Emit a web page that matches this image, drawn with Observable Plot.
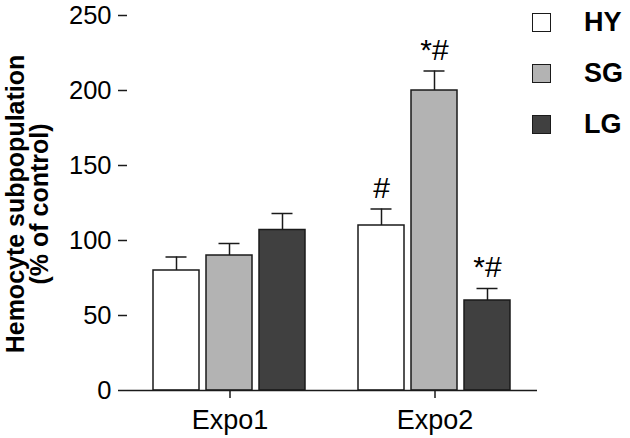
<!DOCTYPE html>
<html>
<head>
<meta charset="utf-8">
<script src="https://cdn.jsdelivr.net/npm/d3@7"></script>
<script src="https://cdn.jsdelivr.net/npm/@observablehq/plot@0.6"></script>
<style>
  html, body { margin: 0; padding: 0; background: #fff; }
  #wrap { position: relative; width: 630px; height: 438px; font-family: "Liberation Sans", Arial, sans-serif; }
  #wrap svg { position: absolute; left: 0; top: 0; }
  #ylabel { position: absolute; left: 26.5px; top: 204px; transform: translate(-50%, -50%) rotate(-90deg);
    white-space: nowrap; text-align: center; font-weight: bold; font-size: 25px; line-height: 24px; color: #000; }
  #legend { position: absolute; left: 532px; top: -3.5px; }
  .item { display: flex; align-items: center; height: 51px; }
  .sw { width: 17px; height: 17px; border: 1.5px solid #1a1a1a; box-sizing: content-box; }
  .lab { margin-left: 33px; font-weight: bold; font-size: 27px; color: #000; }
</style>
</head>
<body>
<div id="wrap"></div>
<script>
const expos = ["Expo1", "Expo2"];
const groups = ["HY", "SG", "LG"];
const colors = ["#ffffff", "#b3b3b3", "#404040"];
const expo1Mean = [80, 90, 107];
const expo1Err = [9, 8, 11];
const expo2Mean = [110, 200, 60];
const expo2Err = [11, 13, 8];
const expo1Sig = ["", "", ""];
const expo2Sig = ["#", "*#", "*#"];
const yTicks = [0, 50, 100, 150, 200, 250];
const yLabelLines = ["Hemocyte subpopulation", "(% of control)"];

const means = [expo1Mean, expo2Mean];
const errs = [expo1Err, expo2Err];
const sigs = [expo1Sig, expo2Sig];
const data = expos.flatMap((e, i) => groups.map((g, j) => ({
  expo: e, group: g, mean: means[i][j], top: means[i][j] + errs[i][j], sig: sigs[i][j]
})));

const plot = Plot.plot({
  width: 630,
  height: 438,
  marginLeft: 126,
  marginRight: 93,
  marginTop: 15,
  marginBottom: 48,
  style: { fontFamily: "Liberation Sans, Arial, sans-serif", color: "#000", background: "transparent" },
  fx: { domain: expos, padding: 0 },
  x: { domain: groups, paddingInner: 0.13, paddingOuter: 0.47, axis: null },
  y: { domain: [0, 250] },
  color: { domain: groups, range: colors },
  marks: [
    Plot.ruleX(data, { fx: "expo", x: "group", y1: "mean", y2: "top", stroke: "#1a1a1a", strokeWidth: 1.5 }),
    Plot.tickY(data, { fx: "expo", x: "group", y: "top", stroke: "#1a1a1a", strokeWidth: 1.5, insetLeft: 12.5, insetRight: 12.5 }),
    Plot.barY(data, { fx: "expo", x: "group", y: "mean", fill: "group", stroke: "#1a1a1a", strokeWidth: 1.5 }),
    Plot.text(data, { fx: "expo", x: "group", y: "top", text: "sig", dy: -21, lineAnchor: "middle", fontSize: 30, fill: "#000" }),
    Plot.ruleY([0], { stroke: "#1a1a1a", strokeWidth: 1.5 }),
    Plot.axisY({ ticks: yTicks, tickSize: 9, tickPadding: 7, fontSize: 25.5, line: true, stroke: "#1a1a1a", strokeOpacity: 1, strokeWidth: 1.5, label: null }),
    Plot.axisFx({ anchor: "bottom", tickSize: 8, tickPadding: 11, fontSize: 27, label: null, stroke: "#1a1a1a", strokeOpacity: 1, strokeWidth: 1.5 })
  ]
});
const wrap = document.getElementById("wrap");
wrap.appendChild(plot);

const ylab = document.createElement("div");
ylab.id = "ylabel";
ylab.innerHTML = yLabelLines.join("<br>");
wrap.appendChild(ylab);

const legend = document.createElement("div");
legend.id = "legend";
groups.forEach((g, i) => {
  const item = document.createElement("div");
  item.className = "item";
  const sw = document.createElement("div");
  sw.className = "sw";
  sw.style.background = colors[i];
  const lab = document.createElement("span");
  lab.className = "lab";
  lab.textContent = g;
  item.appendChild(sw);
  item.appendChild(lab);
  legend.appendChild(item);
});
wrap.appendChild(legend);
</script>
</body>
</html>
